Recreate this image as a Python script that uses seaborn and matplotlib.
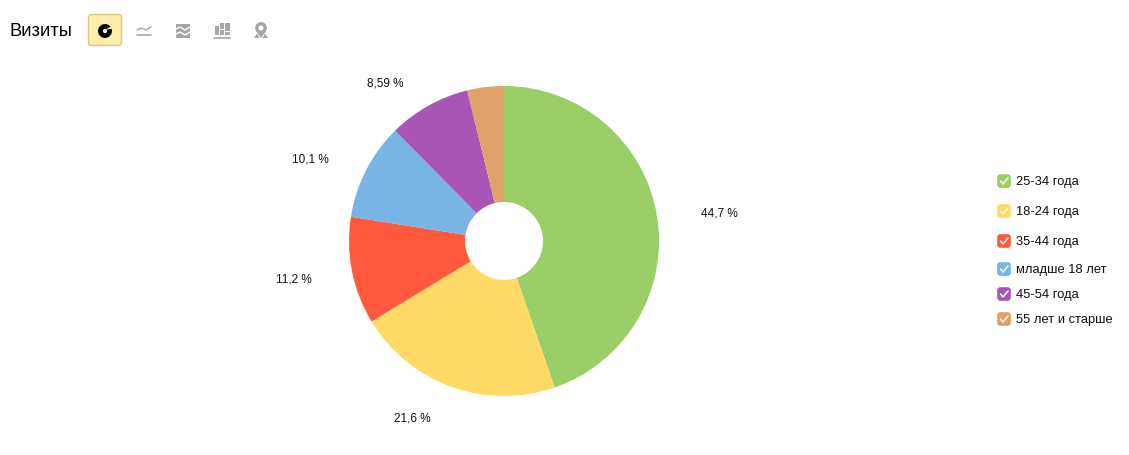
import seaborn as sns
import matplotlib.pyplot as plt
from matplotlib.patches import FancyBboxPatch, Polygon, Circle, Rectangle

# chart values
groups = ['25-34 года', '18-24 года', '35-44 года', 'младше 18 лет', '45-54 года', '55 лет и старше']
shares = [44.7, 21.6, 11.2, 10.1, 8.59, 3.81]
share_labels = ['44,7 %', '21,6 %', '11,2 %', '10,1 %', '8,59 %']
colors = ['#9ACE66', '#FFD966', '#FF5A3C', '#78B4E6', '#A855B5', '#E0A06A']

label_x = [719, 412, 294, 310, 385]
label_y = [214, 419, 280, 160, 83]
legend_y = [182, 212, 242, 270, 295, 320]

sns.set_theme(style='white')
plt.rcParams['font.family'] = ['Liberation Sans', 'DejaVu Sans']
palette = sns.color_palette(colors)

fig = plt.figure(figsize=(11.29, 4.56), dpi=100)
ax = fig.add_axes([0, 0, 1, 1])

# pixel coordinates, y pointing down, so the pie runs clockwise from -90
ax.pie(shares, colors=palette, center=(504, 242), radius=155, startangle=-90, counterclock=True,
       wedgeprops={'width': 116, 'linewidth': 0})
ax.set_xlim(0, 1129)
ax.set_ylim(456, 0)
ax.set_aspect('equal')
ax.axis('off')

for x, y, s in zip(label_x, label_y, share_labels):
    ax.text(x, y, s, fontsize=8.5, color='#111111', ha='center', va='center')

# legend with check boxes
for y, name, col in zip(legend_y, groups, palette):
    ax.add_patch(FancyBboxPatch((998, y - 6), 12, 12, boxstyle='round,pad=0,rounding_size=2.5',
                                facecolor=col, edgecolor=col, linewidth=1.2))
    ax.plot([1000.5, 1003, 1008], [y, y + 3, y - 3], color='white', lw=1.1, solid_capstyle='round')
    ax.text(1016, y, name, fontsize=9.3, color='#111111', ha='left', va='center')

# header
ax.text(9.5, 31, 'Визиты', fontsize=13.2, color='black', ha='left', va='center')
ax.add_patch(FancyBboxPatch((88.5, 15.5), 33, 31, boxstyle='round,pad=0,rounding_size=3',
                            facecolor='#FFEDA8', edgecolor='#DDC680', linewidth=1))

# toolbar icons
ax.add_patch(Circle((105, 32), 4.6, facecolor='none', edgecolor='black', linewidth=3.4))
ax.add_patch(Polygon([[105, 31], [113, 26], [113, 29.5]], facecolor='#FFEDA8', edgecolor='none'))

grey = '#A6A6A6'
ax.plot([137, 142, 146, 151], [31, 29, 31, 28], color=grey, lw=1)
ax.plot([137, 151], [36, 36], color=grey, lw=1.2)

ax.add_patch(Rectangle((176, 25), 14, 14, facecolor=grey, edgecolor='none'))
ax.plot([176, 180, 185, 190], [30, 28, 31, 28], color='white', lw=1)
ax.plot([176, 180, 185, 190], [35, 33, 36, 33], color='white', lw=1)

# bars icon, columns cut into blocks
for x, top, w in zip([215, 220, 225], [27, 24, 24], [3.5, 4, 4.5]):
    ax.add_patch(Rectangle((x, top), w, 36 - top, facecolor=grey, edgecolor='none'))
ax.plot([220, 224], [30, 30], color='white', lw=0.8)
ax.plot([225, 229.5], [32, 32], color='white', lw=0.8)
ax.plot([214, 230], [38.5, 38.5], color=grey, lw=1.2)

ax.add_patch(Circle((261, 29), 4.2, facecolor='none', edgecolor=grey, linewidth=2.4))
ax.add_patch(Polygon([[256, 32], [266, 32], [261, 39]], facecolor=grey, edgecolor='none'))
ax.add_patch(Polygon([[254, 39], [257, 34.5], [259.5, 39]], facecolor=grey, edgecolor='none'))
ax.add_patch(Polygon([[262.5, 39], [265, 34.5], [268, 39]], facecolor=grey, edgecolor='none'))

fig.savefig('out.png', dpi=100)
